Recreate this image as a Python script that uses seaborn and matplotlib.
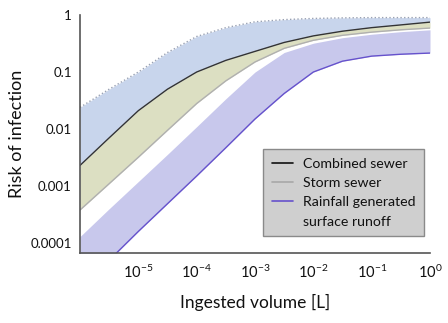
import numpy as np
import pandas as pd
import seaborn as sns
import matplotlib
matplotlib.use('Agg')
import matplotlib.pyplot as plt
from matplotlib.lines import Line2D

# ingested volume [L] (half decades)
volume = [1e-6, 3.16e-6, 1e-5, 3.16e-5, 1e-4, 3.16e-4, 1e-3,
          3.16e-3, 1e-2, 3.16e-2, 1e-1, 3.16e-1, 1e0]
# upper bound (dotted)
upper_bound = [0.024, 0.05, 0.10, 0.22, 0.42, 0.60, 0.76, 0.83, 0.87, 0.89, 0.90, 0.90, 0.90]
# combined sewer (black line)
combined = [0.0023, 0.007, 0.021, 0.05, 0.10, 0.16, 0.23, 0.33, 0.43, 0.52, 0.60, 0.67, 0.75]
# storm sewer (grey line, lower edge of khaki band)
storm = [3.8e-4, 1.1e-3, 0.0032, 0.0095, 0.028, 0.07, 0.15, 0.26, 0.36, 0.44, 0.50, 0.55, 0.59]
# rainfall generated surface runoff band
runoff_upper = [1.3e-4, 4e-4, 1.2e-3, 3.6e-3, 0.011, 0.034, 0.10, 0.22, 0.32, 0.40, 0.46, 0.51, 0.55]
runoff = [1.6e-5, 5e-5, 1.6e-4, 4.9e-4, 0.0015, 0.0047, 0.015, 0.042, 0.10, 0.155, 0.19, 0.205, 0.215]

xtick_vals = [1e-5, 1e-4, 1e-3, 1e-2, 1e-1, 1e0]
xtick_labels = ['$10^{-5}$', '$10^{-4}$', '$10^{-3}$', '$10^{-2}$', '$10^{-1}$', '$10^{0}$']
ytick_vals = [1e-4, 1e-3, 1e-2, 1e-1, 1]
ytick_labels = ['0.0001', '0.001', '0.01', '0.1', '1']

df = pd.DataFrame({'volume': volume, 'upper': upper_bound, 'combined': combined,
                   'storm': storm, 'runoff_upper': runoff_upper, 'runoff': runoff})

sns.set_style('white')
plt.rcParams['font.family'] = ['Lato', 'DejaVu Sans']
plt.rcParams['mathtext.fontset'] = 'custom'
plt.rcParams['mathtext.rm'] = 'Lato'
plt.rcParams['mathtext.it'] = 'Lato:italic'
plt.rcParams['mathtext.bf'] = 'Lato:bold'
plt.rcParams['mathtext.default'] = 'regular'

fig = plt.figure(figsize=(4.48, 3.23), dpi=100)
ax = fig.add_axes([80 / 448, 1 - 253 / 323, 350 / 448, 238 / 323])

# bands
ax.fill_between(df['volume'], df['combined'], df['upper'], color='#c8d5ec', lw=0)
ax.fill_between(df['volume'], df['storm'], df['combined'], color='#dcdfc2', lw=0)
ax.fill_between(df['volume'], df['runoff'], df['runoff_upper'], color='#c8c8ec', lw=0)

# lines
ax.plot(df['volume'], df['upper'], color='#9aa2b4', lw=1.0, ls=':')
sns.lineplot(data=df, x='volume', y='storm', ax=ax, color='#b0b0b0', lw=1.0)
sns.lineplot(data=df, x='volume', y='combined', ax=ax, color='#333333', lw=1.0)
sns.lineplot(data=df, x='volume', y='runoff', ax=ax, color='#6652cc', lw=1.0)

ax.set_xscale('log')
ax.set_yscale('log')
ax.set_xlim(1e-6, 1)
ax.set_ylim(6.7e-5, 1)
ax.set_xticks(xtick_vals)
ax.set_xticklabels(xtick_labels)
ax.set_yticks(ytick_vals)
ax.set_yticklabels(ytick_labels)
ax.minorticks_off()
ax.tick_params(direction='in', length=3, width=0.8, color='#555555', labelsize=9.5,
               labelcolor='#111111')
ax.tick_params(axis='x', pad=8, labelsize=10.5)
ax.tick_params(axis='y', pad=6)

for s in ['top', 'right']:
    ax.spines[s].set_visible(False)
for s in ['left', 'bottom']:
    ax.spines[s].set_color('#555555')
    ax.spines[s].set_linewidth(1.2)

ax.set_xlabel('Ingested volume [L]', fontsize=12.5, color='#111111', labelpad=9)
ax.set_ylabel('Risk of infection', fontsize=13, color='#111111', labelpad=4)

handles = [Line2D([], [], color='#111111', lw=1.2),
           Line2D([], [], color='#a8a8a8', lw=1.2),
           Line2D([], [], color='#6652cc', lw=1.2),
           Line2D([], [], color='none', lw=0)]
labels = ['Combined sewer', 'Storm sewer', 'Rainfall generated', 'surface runoff']
leg = ax.legend(handles, labels, loc='upper left', bbox_to_anchor=(263 / 448, 1 - 149 / 323),
                bbox_transform=fig.transFigure, fontsize=10.2, frameon=True, fancybox=False,
                handlelength=1.5, handletextpad=0.7, labelspacing=0.52, borderpad=0.6,
                borderaxespad=0)
leg.get_frame().set_facecolor('#cfcfcf')
leg.get_frame().set_edgecolor('#8a8a8a')
leg.get_frame().set_alpha(1)
for t in leg.get_texts():
    t.set_color('#111111')

fig.savefig('out.png', dpi=100)
